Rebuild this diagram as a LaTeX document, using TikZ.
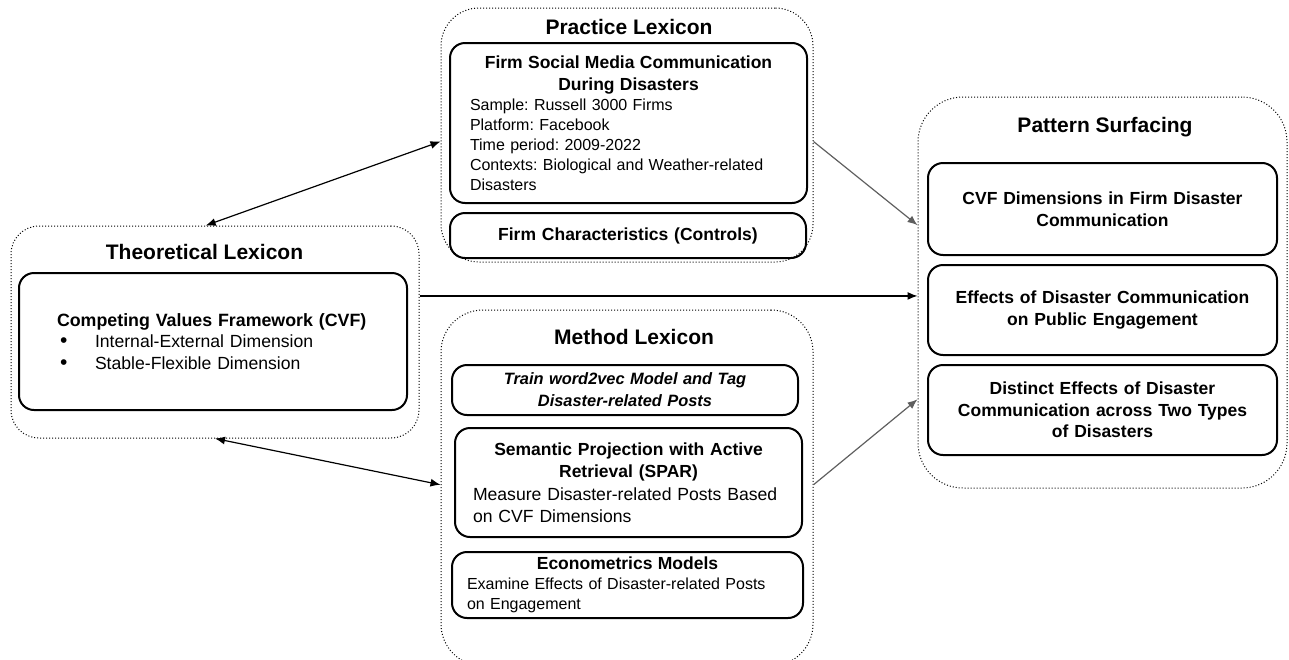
\documentclass[tikz,border=0pt]{standalone}
\usepackage{fontspec}
\setmainfont{Liberation Sans}
\usetikzlibrary{calc,arrows.meta}
\setlength{\parindent}{0pt}
\frenchspacing
\definecolor{arrowgray}{RGB}{95,95,95}
\tikzset{>={Latex[length=10pt,width=8pt]}}
\newcommand{\bodyfont}{\fontsize{16}{20}\selectfont}
\newcommand{\bigbodyfont}{\fontsize{17.6}{21.5}\selectfont}
\newcommand{\hdfont}{\fontsize{17.5}{21.5}\selectfont\bfseries}
\newcommand{\ttlfont}{\fontsize{21}{24}\selectfont\bfseries}
\newcommand{\blt}{\hspace*{3pt}\makebox[35pt][l]{\fontsize{21}{20}\selectfont\textbullet}}

\begin{document}
\begin{tikzpicture}[x=1pt, y=-1pt,
  grp/.style = {draw=black, line width=1pt, dash pattern=on 1pt off 2pt,
                rounded corners=#1, inner sep=0pt},
  box/.style = {draw, line width=2pt, rounded corners=15pt, inner sep=0pt,
                font=\bodyfont, align=left},
  cbox/.style = {box, font=\hdfont, align=center},
  ttl/.style = {font=\ttlfont, inner sep=0pt},
  link/.style = {line width=1.2pt, <->},
  flow/.style = {line width=1.2pt, ->},
  gflow/.style = {line width=1.2pt, ->, arrowgray}]
\useasboundingbox (0,0) rectangle (1289,659);

% lexicon groups
\node[grp=28, minimum width=408, minimum height=212] (theo) at (215,332) {};
\node[grp=38, minimum width=372, minimum height=254] (prac) at (627,135) {};
\node[grp=42, minimum width=372, minimum height=356] (meth) at (627,488) {};
\node[grp=45, minimum width=369, minimum height=391] (pat) at (1102.5,292.5) {};

\node[ttl] (theottl) at (204.5,252) {Theoretical Lexicon};
\node[ttl] (practtl) at (629,27) {Practice Lexicon};
\node[ttl] (methttl) at (634,337) {Method Lexicon};
\node[ttl] (patttl) at (1105,127) {Pattern Surfacing};

% theoretical lexicon
\node[box, font=\bigbodyfont, minimum width=388, minimum height=137, text width=312] (cvf) at (213,341.5)
  {{\fontsize{17.8}{21.5}\selectfont\bfseries Competing Values Framework (CVF)\par}
   \blt Internal-External Dimension\\
   \blt Stable-Flexible Dimension};

% practice lexicon
\node[box, minimum width=357, minimum height=160, text width=317] (firm) at (628.5,123)
  {{\centering\hdfont Firm Social Media Communication\\During Disasters\par}
   Sample: Russell 3000 Firms\\
   Platform: Facebook\\
   Time period: 2009-2022\\
   Contexts: Biological and Weather-related\\
   Disasters};
\node[cbox, minimum width=356, minimum height=45, text width=330] (ctrl) at (628,235.5)
  {Firm Characteristics (Controls)};

% method lexicon
\node[cbox, font=\fontsize{16.4}{22}\selectfont\bfseries\itshape,
      minimum width=346, minimum height=50, text width=330] (w2v) at (625,390)
  {Train word2vec Model and Tag\\Disaster-related Posts};
\node[box, font=\bigbodyfont, minimum width=347, minimum height=109, text width=311] (spar) at (628.5,482.5)
  {{\centering\hdfont Semantic Projection with Active\\Retrieval (SPAR)\par}
   \vspace{2pt}Measure Disaster-related Posts Based\\
   on CVF Dimensions};
\node[box, minimum width=351, minimum height=66, text width=321] (econ) at (627.5,585)
  {{\centering\hdfont Econometrics Models\par}
   Examine Effects of Disaster-related Posts\\
   on Engagement};

% pattern surfacing
\node[cbox, minimum width=349, minimum height=92, text width=330] (dims) at (1102.5,209)
  {CVF Dimensions in Firm Disaster\\Communication};
\node[cbox, minimum width=349, minimum height=90, text width=330] (eff) at (1102.5,310)
  {Effects of Disaster Communication\\on Public Engagement};
\node[cbox, minimum width=349, minimum height=90, text width=330] (dist) at (1102.5,410)
  {Distinct Effects of Disaster\\Communication across Two Types\\of Disasters};

% connectors
\draw[link] (theo.95) -- (prac.182);
\draw[link] (theo.south) -- (meth.179);
\draw[flow] (theo.10.5) -- (theo.10.5 -| pat.west);
\draw[gflow] (prac.-2) -- (pat.160);
\draw[gflow] (meth.1) -- (pat.210);
\end{tikzpicture}
\end{document}
